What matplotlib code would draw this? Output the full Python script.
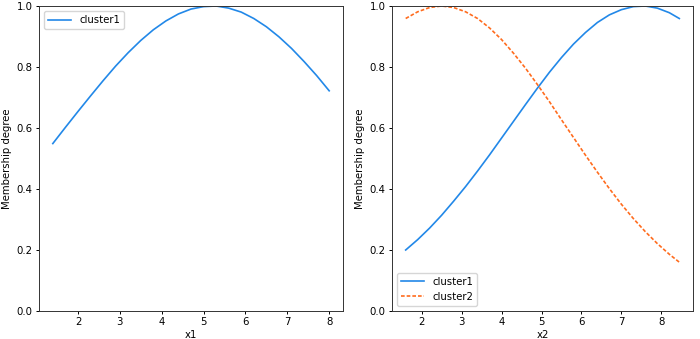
import numpy as np
import matplotlib
matplotlib.use('Agg')
import matplotlib.pyplot as plt

# left panel: membership of x1 in cluster1
x1 = [1.4, 1.7, 2.0, 2.3, 2.6, 2.9, 3.2, 3.5, 3.8, 4.1, 4.4, 4.7, 5.0,
      5.3, 5.6, 5.9, 6.2, 6.5, 6.8, 7.1, 7.4, 7.7, 8.0]
x1_cluster1 = [0.549, 0.602, 0.654, 0.705, 0.755, 0.803, 0.847, 0.887, 0.922,
               0.951, 0.974, 0.990, 0.998, 1.000, 0.993, 0.980, 0.959, 0.932,
               0.899, 0.861, 0.818, 0.772, 0.722]

# right panel: membership of x2 in both clusters
x2 = [1.6, 1.9, 2.2, 2.5, 2.8, 3.1, 3.4, 3.7, 4.0, 4.3, 4.6, 4.9, 5.2,
      5.5, 5.8, 6.1, 6.4, 6.7, 7.0, 7.3, 7.6, 7.9, 8.2, 8.45]
x2_cluster1 = [0.200, 0.234, 0.272, 0.314, 0.360, 0.408, 0.459, 0.512, 0.567,
               0.622, 0.677, 0.731, 0.783, 0.831, 0.875, 0.913, 0.946, 0.971,
               0.988, 0.998, 1.000, 0.993, 0.978, 0.959]
x2_cluster2 = [0.959, 0.981, 0.995, 1.000, 0.995, 0.981, 0.959, 0.928, 0.890,
               0.845, 0.796, 0.742, 0.686, 0.627, 0.569, 0.511, 0.455, 0.401,
               0.350, 0.303, 0.260, 0.221, 0.186, 0.160]

blue = '#2288e8'
orange = '#ff6c1e'
fs = 7.3

fig = plt.figure(figsize=(7, 3.39), dpi=100)
ax1 = fig.add_axes([39/700, 28/339, 304/700, 305/339])
ax2 = fig.add_axes([392/700, 28/339, 301/700, 305/339])

ax1.plot(x1, x1_cluster1, color=blue, lw=1.2, label='cluster1')
ax1.set_ylim(0, 1)
ax1.set_xlabel('x1', fontsize=fs, labelpad=2)
ax1.set_ylabel('Membership degree', fontsize=fs, labelpad=3)
ax1.legend(loc='upper left', fontsize=fs, handlelength=2.3)

ax2.plot(x2, x2_cluster1, color=blue, lw=1.2, label='cluster1')
ax2.plot(x2, x2_cluster2, color=orange, lw=1.2, dashes=(2.2, 1.2), label='cluster2')
ax2.set_ylim(0, 1)
ax2.set_xlabel('x2', fontsize=fs, labelpad=2)
ax2.set_ylabel('Membership degree', fontsize=fs, labelpad=3)
ax2.legend(loc='lower left', fontsize=fs, handlelength=2.3)

for ax in (ax1, ax2):
    ax.tick_params(labelsize=fs, length=2.5, width=0.7, pad=2)
    for s in ax.spines.values():
        s.set_linewidth(0.7)
        s.set_color('#333333')

fig.savefig('out.png', dpi=100)
